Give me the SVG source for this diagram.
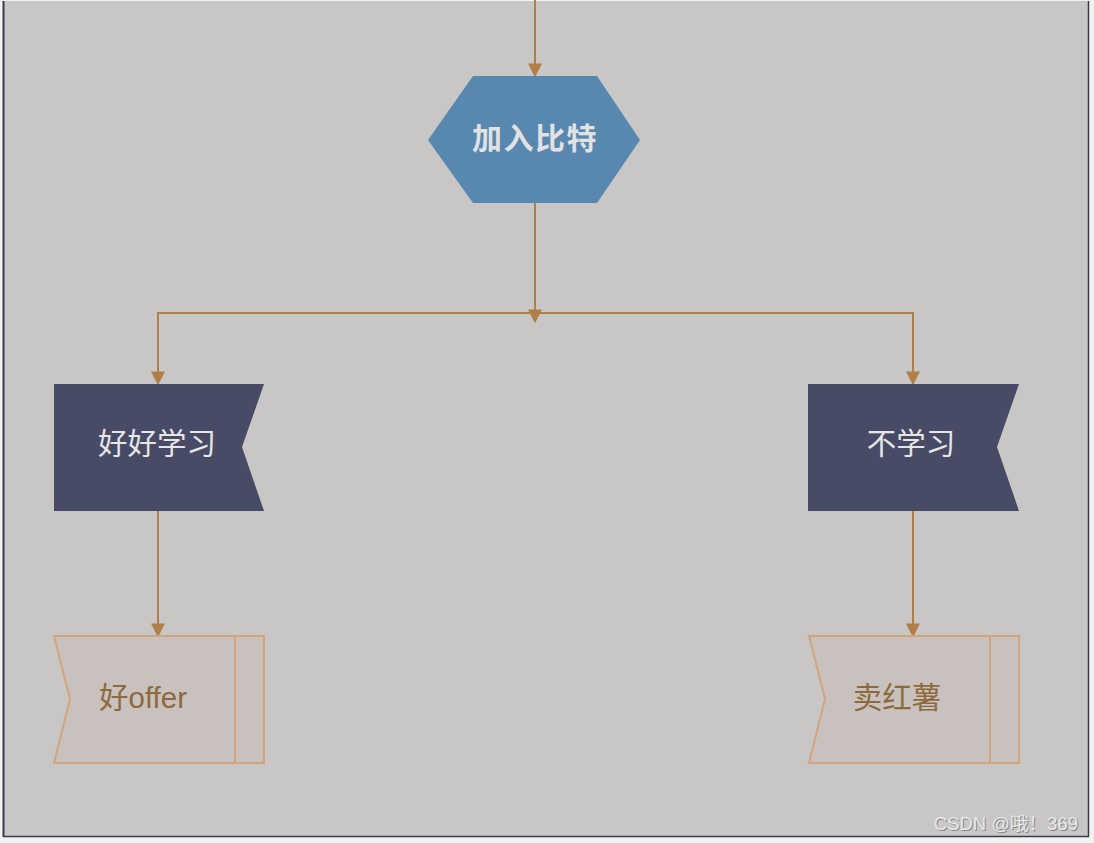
<svg xmlns="http://www.w3.org/2000/svg" width="1094" height="843" viewBox="0 0 1094 843">
<defs>
<style>
.conn{fill:none;stroke:#b07f48;stroke-width:2}
.cn{font-family:"Liberation Sans","Noto Sans CJK SC",sans-serif;text-anchor:middle;dominant-baseline:central}
.flag{fill:#474b65}
.doc{fill:#c9c1be;stroke:#d3a47c;stroke-width:2}
.wm{font-family:"Liberation Sans","Noto Sans CJK SC",sans-serif;font-size:18.5px;text-anchor:end}
</style>
<marker id="arrL" viewBox="0 0 10 10" refX="9" refY="5" markerWidth="14" markerHeight="14" markerUnits="userSpaceOnUse" orient="auto">
<path d="M0,0 L10,5 L0,10 z" fill="#b07f48"/>
</marker>
</defs>
<rect x="0" y="0" width="1094" height="843" fill="#f2f2f2"/>
<rect x="3" y="1" width="1086" height="836" fill="#c8c7c5"/>
<line x1="3.5" y1="1" x2="3.5" y2="837" stroke="#3a3a48" stroke-width="2"/>
<line x1="1088.5" y1="1" x2="1088.5" y2="837" stroke="#3a3a48" stroke-width="1.5"/>
<line x1="3" y1="836.5" x2="1089" y2="836.5" stroke="#3a3a48" stroke-width="1.5"/>
<g id="connectors">
<line class="conn" x1="535" y1="0" x2="535" y2="76" marker-end="url(#arrL)"/>
<line class="conn" x1="535" y1="203" x2="535" y2="322" marker-end="url(#arrL)"/>
<polyline class="conn" points="535,313 158,313 158,384" marker-end="url(#arrL)"/>
<polyline class="conn" points="535,313 913,313 913,384" marker-end="url(#arrL)"/>
<line class="conn" x1="158" y1="511" x2="158" y2="636" marker-end="url(#arrL)"/>
<line class="conn" x1="913" y1="511" x2="913" y2="636" marker-end="url(#arrL)"/>
</g>
<g id="node-join">
<polygon points="473,76 597,76 640,140 597,203 473,203 428,140" fill="#5887af"/>
<text class="cn" x="535" y="138" font-size="30" font-weight="bold" letter-spacing="1.5" fill="#e2e2e2">加入比特</text>
</g>
<g id="node-study">
<polygon class="flag" points="54,384 264,384 242,447 264,511 54,511"/>
<text class="cn" x="157" y="443" font-size="29.5" fill="#e6e6e6">好好学习</text>
</g>
<g id="node-nostudy">
<polygon class="flag" points="808,384 1019,384 997,447 1019,511 808,511"/>
<text class="cn" x="911" y="443" font-size="29.5" fill="#e6e6e6">不学习</text>
</g>
<g id="node-offer">
<polygon class="doc" points="54,636 264,636 264,763 54,763 70,699"/>
<line x1="235" y1="636" x2="235" y2="763" stroke="#d3a47c" stroke-width="2"/>
<text class="cn" x="143" y="697" font-size="29.5" fill="#8c6a3c">好offer</text>
</g>
<g id="node-sell">
<polygon class="doc" points="809,636 1019,636 1019,763 809,763 825,699"/>
<line x1="990" y1="636" x2="990" y2="763" stroke="#d3a47c" stroke-width="2"/>
<text class="cn" x="897" y="697" font-size="29.5" fill="#8c6a3c">卖红薯</text>
</g>
<text class="wm" x="1079" y="831" fill="#777" opacity="0.8">CSDN @哦！369</text>
<text class="wm" x="1078" y="830" fill="#e8e8e8">CSDN @哦！369</text>
</svg>
